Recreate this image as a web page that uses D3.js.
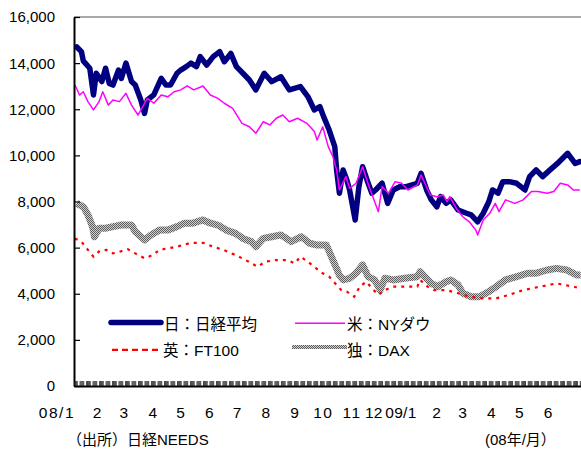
<!DOCTYPE html>
<html>
<head>
<meta charset="utf-8">
<script src="https://cdn.jsdelivr.net/npm/d3@7"></script>
<style>
  html, body { margin: 0; padding: 0; background: #fff; }
  svg { display: block; font-family: "Liberation Sans", Arial, "Noto Sans CJK JP", sans-serif; }
</style>
</head>
<body>
<svg id="chart" width="581" height="450"></svg>
<script>
// 日経平均
const nikkei = [
  ["2008-01-04",14700],["2008-01-09",14500],["2008-01-11",14100],["2008-01-18",13780],
  ["2008-01-22",12620],["2008-01-25",13560],["2008-01-31",13200],["2008-02-04",13780],
  ["2008-02-08",13120],["2008-02-12",13050],["2008-02-18",13700],["2008-02-21",13340],
  ["2008-02-26",14000],["2008-03-03",13200],["2008-03-07",13050],["2008-03-13",12400],
  ["2008-03-17",11820],["2008-03-20",12400],["2008-03-27",12620],["2008-04-04",13340],
  ["2008-04-09",13050],["2008-04-14",13050],["2008-04-21",13560],["2008-04-25",13700],
  ["2008-05-01",13850],["2008-05-06",14000],["2008-05-12",13850],["2008-05-16",14280],
  ["2008-05-23",13920],["2008-05-30",14280],["2008-06-06",14500],["2008-06-11",14060],
  ["2008-06-18",14420],["2008-06-24",13850],["2008-07-01",13560],["2008-07-08",13270],
  ["2008-07-15",12840],["2008-07-24",13560],["2008-08-01",13200],["2008-08-11",13410],
  ["2008-08-20",12840],["2008-09-01",12980],["2008-09-09",12550],["2008-09-16",11970],
  ["2008-09-22",12110],["2008-09-26",11680],["2008-10-02",11100],["2008-10-08",10380],
  ["2008-10-10",9370],["2008-10-13",8360],["2008-10-17",9370],["2008-10-21",8930],
  ["2008-10-24",8500],["2008-10-30",7200],["2008-11-03",8640],["2008-11-07",9510],
  ["2008-11-13",8790],["2008-11-17",8360],["2008-11-21",8500],["2008-11-28",8790],
  ["2008-12-04",7920],["2008-12-10",8500],["2008-12-17",8640],["2008-12-24",8640],
  ["2009-01-05",8790],["2009-01-09",9220],["2009-01-15",8500],["2009-01-20",8070],
  ["2009-01-26",7770],["2009-01-30",8210],["2009-02-05",7920],["2009-02-10",8070],
  ["2009-02-18",7630],["2009-02-27",7490],["2009-03-04",7420],["2009-03-11",7120],
  ["2009-03-17",7490],["2009-03-23",7990],["2009-03-27",8500],["2009-04-02",8360],
  ["2009-04-07",8860],["2009-04-14",8860],["2009-04-22",8790],["2009-05-01",8500],
  ["2009-05-06",9080],["2009-05-13",9370],["2009-05-20",9080],["2009-05-28",9370],
  ["2009-06-05",9650],["2009-06-16",10090],["2009-06-24",9650],["2009-06-29",9730]
];

// NYダウ
const nyDow = [
  ["2008-01-02",13050],["2008-01-07",12620],["2008-01-11",12760],["2008-01-16",12330],
  ["2008-01-22",11970],["2008-01-28",12330],["2008-02-01",12760],["2008-02-07",12180],
  ["2008-02-12",12400],["2008-02-19",12330],["2008-02-26",12690],["2008-03-03",12180],
  ["2008-03-10",11750],["2008-03-14",12040],["2008-03-20",12470],["2008-03-27",12260],
  ["2008-04-04",12620],["2008-04-11",12540],["2008-04-18",12760],["2008-04-25",12840],
  ["2008-05-02",13010],["2008-05-09",12840],["2008-05-19",13010],["2008-05-27",12620],
  ["2008-06-04",12470],["2008-06-11",12260],["2008-06-20",12040],["2008-06-30",11390],
  ["2008-07-08",11240],["2008-07-15",10960],["2008-07-23",11460],["2008-07-30",11320],
  ["2008-08-06",11610],["2008-08-13",11750],["2008-08-20",11460],["2008-08-29",11610],
  ["2008-09-08",11390],["2008-09-16",11030],["2008-09-19",10670],["2008-09-25",11240],
  ["2008-10-01",10380],["2008-10-06",9940],["2008-10-10",9370],["2008-10-13",8500],
  ["2008-10-20",9080],["2008-10-24",8570],["2008-10-31",8790],["2008-11-07",9510],
  ["2008-11-14",8640],["2008-11-24",7560],["2008-11-28",8640],["2008-12-05",8360],
  ["2008-12-12",8860],["2008-12-19",8790],["2008-12-26",8500],["2009-01-05",8720],
  ["2009-01-09",9150],["2009-01-19",8280],["2009-01-26",8210],["2009-02-02",8280],
  ["2009-02-06",7990],["2009-02-09",8210],["2009-02-16",7700],["2009-02-23",7340],
  ["2009-03-02",7120],["2009-03-09",6760],["2009-03-11",6550],["2009-03-17",7200],
  ["2009-03-24",7490],["2009-03-30",7920],["2009-04-03",7560],["2009-04-10",8070],
  ["2009-04-20",7920],["2009-04-29",8070],["2009-05-08",8430],["2009-05-15",8430],
  ["2009-05-25",8360],["2009-06-01",8430],["2009-06-08",8790],["2009-06-16",8720],
  ["2009-06-22",8500],["2009-06-29",8500]
];

// FT100
const ft100 = [
  ["2008-01-02",6400],["2008-01-09",6260],["2008-01-16",5900],["2008-01-22",5610],
  ["2008-01-29",5870],["2008-02-05",5900],["2008-02-12",5750],["2008-02-19",5820],
  ["2008-02-28",5930],["2008-03-07",5750],["2008-03-17",5540],["2008-03-26",5680],
  ["2008-04-02",5900],["2008-04-11",5970],["2008-04-21",6040],["2008-05-06",6210],
  ["2008-05-19",6210],["2008-05-30",6040],["2008-06-10",5900],["2008-06-23",5680],
  ["2008-07-04",5460],["2008-07-17",5170],["2008-07-25",5390],["2008-08-06",5460],
  ["2008-08-18",5460],["2008-08-26",5320],["2008-09-01",5610],["2008-09-09",5390],
  ["2008-09-18",5100],["2008-09-25",4890],["2008-10-02",4740],["2008-10-10",4380],
  ["2008-10-15",4160],["2008-10-21",4090],["2008-10-29",3870],["2008-11-04",4310],
  ["2008-11-11",4520],["2008-11-17",4240],["2008-11-24",3950],["2008-12-01",4160],
  ["2008-12-10",4310],["2008-12-22",4310],["2009-01-05",4310],["2009-01-08",4600],
  ["2009-01-16",4310],["2009-01-23",4160],["2009-01-30",4160],["2009-02-05",4160],
  ["2009-02-18",4020],["2009-03-02",3870],["2009-03-17",3800],["2009-03-31",3800],
  ["2009-04-14",3950],["2009-04-29",4160],["2009-05-18",4310],["2009-06-04",4450],
  ["2009-06-22",4310],["2009-06-29",4240]
];

// DAX
const dax = [
  ["2008-01-04",7920],["2008-01-11",7770],["2008-01-16",7420],["2008-01-21",6910],
  ["2008-01-23",6470],["2008-01-28",6840],["2008-02-04",6840],["2008-02-12",6910],
  ["2008-02-21",6980],["2008-03-03",6980],["2008-03-07",6690],["2008-03-17",6330],
  ["2008-03-24",6550],["2008-04-02",6760],["2008-04-11",6760],["2008-04-21",6910],
  ["2008-04-29",7060],["2008-05-08",7060],["2008-05-19",7200],["2008-05-27",7060],
  ["2008-06-04",6980],["2008-06-13",6760],["2008-06-23",6620],["2008-07-01",6400],
  ["2008-07-10",6260],["2008-07-15",6040],["2008-07-23",6400],["2008-08-01",6470],
  ["2008-08-11",6550],["2008-08-22",6260],["2008-09-02",6470],["2008-09-11",6190],
  ["2008-09-19",6110],["2008-09-29",6110],["2008-10-06",5460],["2008-10-13",4810],
  ["2008-10-17",4600],["2008-10-24",4670],["2008-10-31",4890],["2008-11-07",5250],
  ["2008-11-13",4740],["2008-11-20",4600],["2008-11-26",4160],["2008-12-01",4670],
  ["2008-12-10",4600],["2008-12-22",4670],["2009-01-05",4740],["2009-01-08",4960],
  ["2009-01-13",4740],["2009-01-20",4450],["2009-01-27",4310],["2009-02-05",4520],
  ["2009-02-10",4600],["2009-02-18",4380],["2009-02-23",4020],["2009-03-04",3870],
  ["2009-03-13",3870],["2009-03-23",4090],["2009-03-31",4310],["2009-04-10",4600],
  ["2009-04-22",4740],["2009-05-04",4890],["2009-05-13",4890],["2009-05-25",5030],
  ["2009-06-04",5100],["2009-06-15",5030],["2009-06-26",4810],["2009-06-30",4810]
];

// 軸ラベル
const yTicks = [0, 2000, 4000, 6000, 8000, 10000, 12000, 14000, 16000];
const monthStarts = ["2008-01-01","2008-02-01","2008-03-01","2008-04-01","2008-05-01","2008-06-01",
  "2008-07-01","2008-08-01","2008-09-01","2008-10-01","2008-11-01","2008-12-01",
  "2009-01-01","2009-02-01","2009-03-01","2009-04-01","2009-05-01","2009-06-01"];
const monthLabels = ["08/1","2","3","4","5","6","7","8","9","10","11","12","09/1","2","3","4","5","6"];

const legendNames = ["日：日経平均", "米：NYダウ", "英：FT100", "独：DAX"];

const parse = d3.timeParse("%Y-%m-%d");
const svg = d3.select("#chart");

const plotLeft = 74, plotRight = 581.6, plotTop = 17, plotBottom = 386;
const x = d3.scaleTime()
  .domain([parse("2008-01-01"), parse("2009-07-01")])
  .range([plotLeft, plotRight]);
const y = d3.scaleLinear().domain([0, 16000]).range([plotBottom, plotTop]);

// DAX 用の網目模様
const defs = svg.append("defs");
const pat = defs.append("pattern")
  .attr("id", "daxTexture")
  .attr("patternUnits", "userSpaceOnUse")
  .attr("width", 2).attr("height", 2);
pat.append("rect").attr("width", 2).attr("height", 2).attr("fill", "#cfcfcf");
pat.append("rect").attr("width", 1).attr("height", 1).attr("fill", "#5e5e5e");
pat.append("rect").attr("x", 1).attr("y", 1).attr("width", 1).attr("height", 1).attr("fill", "#5e5e5e");

defs.append("clipPath").attr("id", "plotClip")
  .append("rect").attr("x", plotLeft).attr("y", 0).attr("width", 581 - plotLeft).attr("height", plotBottom);

// 上枠
svg.append("line")
  .attr("x1", plotLeft).attr("x2", 581).attr("y1", plotTop).attr("y2", plotTop)
  .attr("stroke", "#8c8c8c").attr("stroke-width", 1.5);

const line = d3.line()
  .x(d => x(parse(d[0])))
  .y(d => y(d[1]));

const plot = svg.append("g").attr("clip-path", "url(#plotClip)");

plot.append("path").datum(nikkei)
  .attr("d", line).attr("fill", "none")
  .attr("stroke", "#000080").attr("stroke-width", 5.5)
  .attr("stroke-linejoin", "round").attr("stroke-linecap", "round");

plot.append("path").datum(dax)
  .attr("d", line).attr("fill", "none")
  .attr("stroke", "url(#daxTexture)").attr("stroke-width", 7)
  .attr("stroke-linejoin", "round");

plot.append("path").datum(nyDow)
  .attr("d", line).attr("fill", "none")
  .attr("stroke", "#ff00ff").attr("stroke-width", 1.5)
  .attr("stroke-linejoin", "round");

plot.append("path").datum(ft100)
  .attr("d", line).attr("fill", "none")
  .attr("stroke", "#ff0000").attr("stroke-width", 2.2)
  .attr("stroke-dasharray", "3,5");

// Y軸（目盛りは内向き）
const yAxis = svg.append("g")
  .attr("transform", `translate(${plotLeft},0)`)
  .call(d3.axisRight(y).tickValues(yTicks).tickSize(6).tickSizeOuter(0).tickFormat(""));
yAxis.select(".domain").attr("stroke", "#000").attr("stroke-width", 2);
yAxis.selectAll(".tick line").attr("stroke", "#000").attr("stroke-width", 1.2);

svg.append("g").selectAll("text").data(yTicks).join("text")
  .attr("x", 55).attr("y", d => y(d)).attr("dy", "0.36em")
  .attr("text-anchor", "end")
  .attr("font-size", 15).attr("fill", "#000")
  .text(d => d3.format(",")(d));

// X軸：営業日ごとの目盛り
const tradingDays = d3.timeDays(parse("2008-01-01"), parse("2009-07-01"))
  .filter(d => d.getDay() !== 0 && d.getDay() !== 6);
const xAxis = svg.append("g")
  .attr("transform", `translate(0,${plotBottom})`)
  .call(d3.axisTop(x).tickValues(tradingDays).tickSize(5).tickSizeOuter(0).tickFormat(""));
xAxis.select(".domain").attr("stroke", "#000").attr("stroke-width", 2);
xAxis.selectAll(".tick line").attr("stroke", "#1a1a1a").attr("stroke-width", 0.8);

// 月ラベル（12月と09/1は詰めて配置）
svg.append("g").selectAll("text").data(monthLabels).join("text")
  .attr("x", (d, i) => {
    const px = x(parse(monthStarts[i]));
    if (d.includes("/")) return i === 12 ? px + 3 : px + 1;
    return i === 11 ? px - 11 : px - 5;
  })
  .attr("y", 418)
  .attr("text-anchor", d => d.includes("/") ? "end" : "middle")
  .attr("font-size", 15.5)
  .attr("letter-spacing", (d, i) => (i === 11 || i === 12) ? "0.3px" : "1.5px")
  .attr("fill", "#000")
  .text(d => d);

// 凡例
const legend = svg.append("g");
legend.append("line").attr("x1", 111).attr("x2", 161).attr("y1", 322.5).attr("y2", 322.5)
  .attr("stroke", "#000080").attr("stroke-width", 5.5).attr("stroke-linecap", "round");
legend.append("line").attr("x1", 295).attr("x2", 345).attr("y1", 323.3).attr("y2", 323.3)
  .attr("stroke", "#ff00ff").attr("stroke-width", 1.5);
legend.append("line").attr("x1", 112).attr("x2", 158).attr("y1", 349.8).attr("y2", 349.8)
  .attr("stroke", "#ff0000").attr("stroke-width", 2.2).attr("stroke-dasharray", "6,4");
legend.append("line").attr("x1", 292).attr("x2", 347).attr("y1", 347).attr("y2", 347)
  .attr("stroke", "url(#daxTexture)").attr("stroke-width", 4);

const legendPos = [[164, 330], [347, 330], [163, 356], [347, 356]];
legend.selectAll("text").data(legendNames).join("text")
  .attr("x", (d, i) => legendPos[i][0]).attr("y", (d, i) => legendPos[i][1])
  .attr("font-size", 15.5).attr("fill", "#000")
  .text(d => d);

// 出所・単位
svg.append("text").attr("x", 67).attr("y", 445)
  .attr("font-size", 15).attr("fill", "#000").text("（出所）日経NEEDS");
svg.append("text").attr("x", 485).attr("y", 445)
  .attr("font-size", 15).attr("fill", "#000").text("(08年/月）");
</script>
</body>
</html>
